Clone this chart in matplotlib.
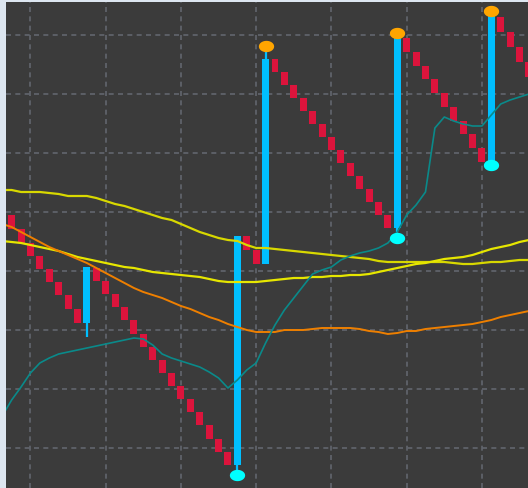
import numpy as np
import matplotlib
matplotlib.use("Agg")
import matplotlib.pyplot as plt
from matplotlib.path import Path

# ---------------- data ----------------
bar_index = list(range(56))
bar_open = [273, 259, 245, 232, 219, 206, 193, 179, 165, 220,
            207, 194, 181, 168, 154, 141, 128, 115, 102, 89,
            76, 63, 49, 36, 23, 252, 238, 224, 429, 416,
            403, 390, 377, 364, 351, 338, 325, 312, 299, 286,
            273, 260, 450, 436, 422, 409, 395, 381, 367, 354,
            340, 326, 471, 456, 441, 426]
bar_close = [259, 245, 232, 219, 206, 193, 179, 165, 221, 207,
             194, 181, 168, 154, 141, 128, 115, 102, 89, 76,
             63, 49, 36, 23, 252, 238, 224, 429, 416, 403,
             390, 377, 364, 351, 338, 325, 312, 299, 286, 273,
             260, 451, 436, 422, 409, 395, 381, 367, 354, 340,
             326, 473, 456, 441, 426, 411]
# wicks of the up bars: (index, low, high)
wick_index = [8, 24, 27, 41, 51]
wick_low = [151, 13, 224, 250, 322]
wick_high = [221, 252, 442, 455, 477]
# signal dots
top_signal_index = [27, 41, 51]
top_signal_value = [442, 455, 477]
bottom_signal_index = [24, 41, 51]
bottom_signal_value = [13, 250, 323]

line_x = list(range(-1, 56))
yellow_a = [298, 298, 296, 296, 296, 295, 294, 292, 292, 292,
            290, 287, 284, 282, 279, 276, 273, 270, 268, 264,
            260, 256, 253, 250, 248, 247, 243, 240, 240, 239,
            238, 237, 236, 235, 234, 233, 232, 231, 230, 229,
            227, 226, 226, 226, 226, 226, 226, 226, 225, 224,
            224, 225, 226, 226, 227, 228, 228]
yellow_b = [247, 246, 245, 243, 241, 239, 237, 234, 231, 229,
            227, 225, 223, 221, 220, 218, 216, 215, 214, 213,
            212, 211, 209, 207, 206, 206, 206, 206, 207, 208,
            209, 210, 210, 211, 211, 212, 212, 213, 213, 214,
            216, 218, 220, 222, 224, 225, 227, 229, 230, 231,
            233, 236, 239, 241, 243, 246, 248]
orange_line = [264, 261, 256, 251, 246, 241, 237, 233, 229, 225,
               220, 215, 210, 205, 200, 196, 193, 190, 186, 182,
               179, 175, 171, 168, 164, 161, 158, 156, 156, 156,
               158, 158, 158, 159, 160, 160, 160, 160, 159, 157,
               156, 154, 155, 157, 157, 159, 160, 161, 162, 163,
               164, 166, 168, 171, 173, 175, 177]
teal_line = [72, 88, 101, 115, 125, 130, 134, 136, 138, 140,
             142, 144, 146, 148, 150, 149, 143, 134, 130, 127,
             124, 121, 116, 110, 100, 108, 118, 125, 145, 163,
             178, 190, 202, 214, 218, 221, 228, 232, 235, 237,
             240, 245, 256, 273, 283, 296, 360, 371, 367, 364,
             362, 362, 373, 384, 388, 391, 394]

grid_x = [2, 10, 18, 26, 34, 42, 50]
grid_y = [40, 99, 158, 217, 276, 335, 394, 453]

# ---------------- figure ----------------
W, H = 528, 488
fig = plt.figure(figsize=(W / 100, H / 100), dpi=100, facecolor="#dde6f0")
ax = fig.add_axes([6 / W, 0, 522 / W, 486 / H])
ax.set_facecolor("#3b3b3b")
ax.set_xlim(-0.6, 54.9)
ax.set_ylim(0, 486)
for s in ax.spines.values():
    s.set_visible(False)
ax.set_xticks(grid_x)
ax.set_yticks(grid_y)
ax.tick_params(length=0, labelbottom=False, labelleft=False)
ax.grid(True, color="#62666e", linewidth=1.2, linestyle=(0, (3, 2.6)))
ax.set_axisbelow(True)

o = np.array(bar_open, dtype=float)
c = np.array(bar_close, dtype=float)
colors = ["#00bfff" if cc > oo else "#dc143c" for oo, cc in zip(o, c)]

# wicks
for i, lo, hi in zip(wick_index, wick_low, wick_high):
    ax.plot([i, i], [lo, hi], color="#00bfff", lw=1.6, zorder=2,
            solid_capstyle="butt")

ax.bar(bar_index, c - o, bottom=o, width=0.74, color=colors,
       linewidth=0, zorder=3)

# indicator lines
ax.plot(line_x, yellow_a, color="#d8d800", lw=1.6, zorder=4)
ax.plot(line_x, yellow_b, color="#e6e600", lw=1.6, zorder=4)
ax.plot(line_x, orange_line, color="#ee7f00", lw=1.4, zorder=4)
ax.plot(line_x, teal_line, color="#0a8a8a", lw=1.2, zorder=4)

# ellipse marker
t = np.linspace(0, 2 * np.pi, 60)
ell = Path(np.column_stack([1.35 * np.cos(t), np.sin(t)]), closed=True)
ax.scatter(top_signal_index, top_signal_value, marker=ell, s=11 ** 2,
           color="#ffa500", linewidths=0, zorder=5)
ax.scatter(bottom_signal_index, bottom_signal_value, marker=ell, s=11 ** 2,
           color="#00ffff", linewidths=0, zorder=5)

fig.savefig("out.png", dpi=100, facecolor=fig.get_facecolor())
